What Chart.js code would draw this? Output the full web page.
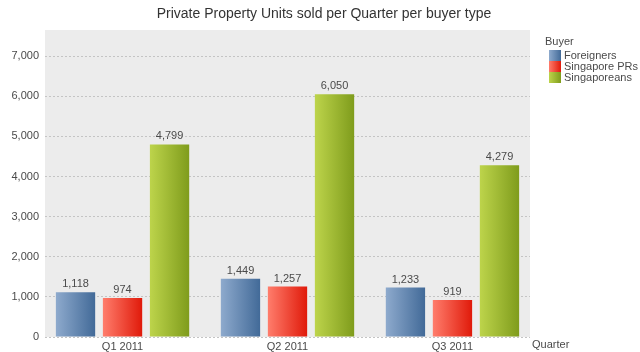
<!DOCTYPE html>
<html>
<head>
<meta charset="utf-8">
<script src="https://cdn.jsdelivr.net/npm/chart.js@4/dist/chart.umd.min.js"></script>
<style>
  html, body { margin: 0; padding: 0; background: #fff; }
  canvas { display: block; }
</style>
</head>
<body>
<canvas id="chart" width="640" height="352"></canvas>
<script>
// data
const quarters = ['Q1 2011', 'Q2 2011', 'Q3 2011'];
const foreigners = [1118, 1449, 1233];
const singaporePRs = [974, 1257, 919];
const singaporeans = [4799, 6050, 4279];
const yTicks = [0, 1000, 2000, 3000, 4000, 5000, 6000, 7000];

const FONT = '"Liberation Sans", Arial, sans-serif';
const TEXT = '#4a4a4a';

// left / right stops of each bar gradient
const shades = {
    Foreigners: ['#8eaacd', '#426a98'],
    'Singapore PRs': ['#ff7d6c', '#e01a0a'],
    Singaporeans: ['#bdd44b', '#7f9c1c'],
};

function barFill(name) {
    return (ctx) => {
        const [a, b] = shades[name];
        const el = ctx.element;
        if (!el || el.x == null || !isFinite(el.x)) return b;
        const w = el.width || 40;
        const g = ctx.chart.ctx.createLinearGradient(el.x - w / 2, 0, el.x + w / 2, 0);
        g.addColorStop(0, a);
        g.addColorStop(1, b);
        return g;
    };
}

function series(label, values) {
    return {
        label,
        data: values.map((v, i) => ({ x: i, y: v })),
        backgroundColor: barFill(label),
        legendColor: shades[label],
        borderWidth: 0,
        categoryPercentage: 0.855,
        barPercentage: 0.836,
    };
}

// grey plot background
const plotBackground = {
    id: 'plotBackground',
    beforeDraw(chart) {
        const { ctx, chartArea: a } = chart;
        ctx.save();
        ctx.fillStyle = '#ececec';
        ctx.fillRect(a.left, a.top, a.right - a.left, a.bottom - a.top);
        ctx.restore();
    },
};

// title, value labels, legend and axis caption
const decorations = {
    id: 'decorations',
    afterDraw(chart) {
        const { ctx, chartArea: a } = chart;
        ctx.save();

        ctx.fillStyle = '#333';
        ctx.font = '14px ' + FONT;
        ctx.textAlign = 'center';
        ctx.textBaseline = 'middle';
        ctx.fillText('Private Property Units sold per Quarter per buyer type', 324, 14);

        ctx.font = '11px ' + FONT;
        ctx.fillStyle = TEXT;
        chart.data.datasets.forEach((ds, di) => {
            chart.getDatasetMeta(di).data.forEach((bar, i) => {
                ctx.fillText(ds.data[i].y.toLocaleString('en-US'), bar.x, bar.y - 8);
            });
        });

        ctx.textAlign = 'left';
        ctx.fillText('Quarter', a.right + 2, 345);

        ctx.fillText('Buyer', 545, 42);
        chart.data.datasets.forEach((ds, di) => {
            const top = 50 + di * 11;
            const g = ctx.createLinearGradient(549, 0, 561, 0);
            g.addColorStop(0, ds.legendColor[0]);
            g.addColorStop(1, ds.legendColor[1]);
            ctx.fillStyle = g;
            ctx.fillRect(549, top, 12, 11);
            ctx.fillStyle = TEXT;
            ctx.fillText(ds.label, 564, top + 5.5);
        });

        ctx.restore();
    },
};

const chart = new Chart(document.getElementById('chart'), {
    type: 'bar',
    data: {
        datasets: [
            series('Foreigners', foreigners),
            series('Singapore PRs', singaporePRs),
            series('Singaporeans', singaporeans),
        ],
    },
    options: {
        responsive: false,
        animation: false,
        events: [],
        layout: { padding: { top: 30, right: 110, left: 0, bottom: 0 } },
        plugins: {
            legend: { display: false },
            title: { display: false },
            tooltip: { enabled: false },
        },
        scales: {
            x: {
                type: 'linear',
                offset: false,
                min: -0.47,
                max: 2.47,
                grid: { display: false, drawTicks: false },
                border: { display: false },
                afterBuildTicks: (s) => { s.ticks = quarters.map((_, i) => ({ value: i })); },
                afterFit: (s) => { s.height = 15; },
                ticks: {
                    autoSkip: false,
                    maxRotation: 0,
                    padding: 3,
                    color: TEXT,
                    font: { family: FONT, size: 11 },
                    callback: (v) => quarters[v],
                },
            },
            y: {
                min: 0,
                max: 7650,
                afterBuildTicks: (s) => { s.ticks = yTicks.map((v) => ({ value: v })); },
                afterFit: (s) => { s.width = 45; },
                grid: {
                    color: '#c4c4c4',
                    drawTicks: false,
                    lineWidth: 1,
                },
                border: { display: false, dash: [2, 2] },
                ticks: {
                    padding: 6,
                    color: TEXT,
                    font: { family: FONT, size: 11 },
                    callback: (v) => v.toLocaleString('en-US'),
                },
            },
        },
    },
    plugins: [plotBackground, decorations],
});

// second pass so the gradients use the laid-out bar positions
chart.update('none');
</script>
</body>
</html>
